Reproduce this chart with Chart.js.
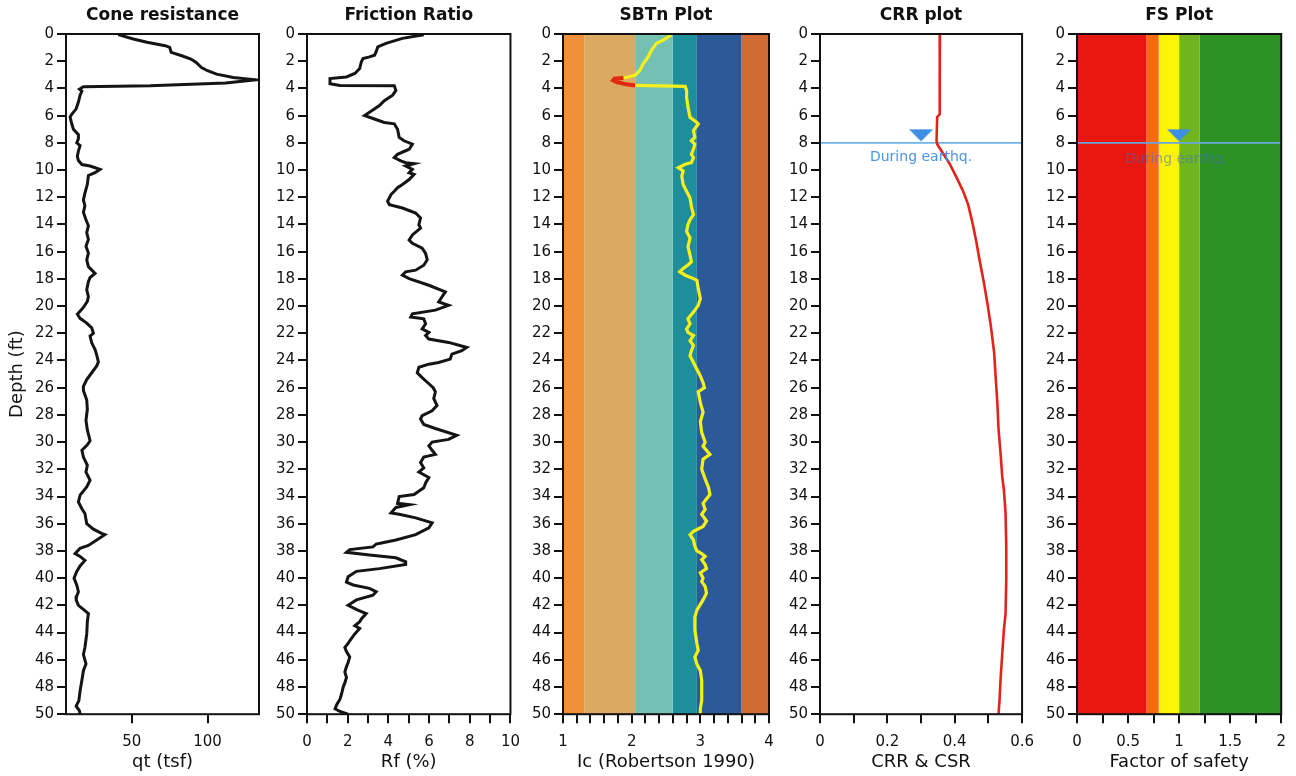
<!DOCTYPE html>
<html>
<head>
<meta charset="utf-8">
<script src="https://cdn.jsdelivr.net/npm/chart.js@4.4.1/dist/chart.umd.min.js"></script>
<style>
  html, body { margin: 0; padding: 0; background: #fff; }
  body { width: 1296px; height: 776px; position: relative; overflow: hidden; }
  canvas { position: absolute; top: 0; }
</style>
</head>
<body>
<canvas id="cone" width="276" height="776" style="left:0px"></canvas>
<canvas id="friction" width="262" height="776" style="left:268px"></canvas>
<canvas id="sbt" width="262" height="776" style="left:524px"></canvas>
<canvas id="crr" width="266" height="776" style="left:778px"></canvas>
<canvas id="fs" width="260" height="776" style="left:1036px"></canvas>
<script>
// ---- data (depth in ft) ----
const depthTicks = [0, 2, 4, 6, 8, 10, 12, 14, 16, 18, 20, 22, 24, 26, 28, 30, 32, 34, 36, 38, 40, 42, 44, 46, 48, 50];

const qtDepth = [0.05, 0.37, 0.61, 0.86, 0.98, 1.35, 1.6, 1.84, 2.09, 2.46, 2.7, 2.95, 3.19, 3.37, 3.6, 3.81, 3.88, 4.05, 4.2, 4.5,
  5.0, 5.5, 5.9, 6.1, 6.6, 7.0, 7.4, 7.7, 8.0, 8.2, 8.6, 9.0, 9.3, 9.6, 9.7, 9.95, 10.2, 10.4, 11.05, 11.7,
  12.2, 12.65, 13.1, 13.6, 14.1, 14.6, 15.1, 15.6, 16.1, 16.6, 17.1, 17.6, 17.9, 18.2, 18.8, 19.3, 19.65, 20.1, 20.6, 20.9,
  21.25, 21.6, 22.0, 22.2, 22.7, 23.2, 23.6, 24.1, 24.4, 24.9, 25.4, 25.9, 26.2, 26.9, 27.6, 28.4, 29.1, 29.9, 30.2, 30.6,
  31.1, 31.7, 32.2, 32.8, 33.3, 33.9, 34.4, 34.9, 35.25, 36.0, 36.4, 36.7, 36.8, 37.2, 37.6, 37.8, 38.2, 38.4, 38.7, 39.1,
  39.5, 40.0, 40.5, 41.0, 41.3, 41.6, 42.0, 42.3, 42.6, 43.2, 44.1, 45.1, 45.6, 46.3, 46.8, 47.5, 48.3, 49.0, 49.4, 49.75, 50.0];
const qtValue = [41, 51, 60, 72, 75, 76, 83, 89, 92.5, 96, 100, 106, 117, 132, 112, 62, 18, 15.4, 17, 15.8,
  14.7, 13.2, 10.3, 9.2, 10.3, 11.4, 14.7, 14.7, 13.6, 15.8, 14.7, 14, 14.7, 17, 22.4, 29, 25.7, 21.3, 20.6, 19,
  18, 19, 18, 19.5, 21.3, 20.2, 21.3, 19.7, 21.3, 20.2, 21.3, 25.7, 22.4, 21.3, 20.2, 21.3, 20.6, 18, 14, 15.8,
  20.2, 23.5, 24.6, 22.4, 23.5, 25.7, 26.8, 27.9, 26.8, 23.5, 20.2, 18, 18, 20.2, 20.6, 19.7, 20.6, 22.4, 20.6, 17,
  18, 20.6, 19.7, 22.4, 20.2, 15.8, 14.7, 17, 19, 20.2, 24.6, 30, 32.2, 26.8, 21.3, 15.8, 12.5, 15.8, 19, 15.8,
  13.6, 11.8, 13.6, 14.7, 13.6, 13.2, 14.7, 18, 21.3, 20.6, 20.2, 19, 18, 19.7, 18, 17, 15.8, 15, 13.2, 15.4, 15.8];

const rfDepth = [0.05, 0.32, 0.69, 0.94, 1.3, 1.56, 1.68, 1.8, 2.05, 2.54, 2.9, 3.16, 3.28, 3.65, 3.78, 3.8, 4.15, 4.5, 4.9, 5.26,
  5.75, 6.0, 6.12, 6.5, 6.6, 7.0, 7.6, 7.85, 8.1, 8.47, 8.84, 9.09, 9.33, 9.46, 9.53, 9.7, 9.95, 10.2, 10.32, 10.7,
  11.06, 11.3, 11.56, 11.8, 12.3, 12.54, 12.79, 13.16, 13.53, 14.02, 14.27, 14.77, 15.14, 15.38, 15.75, 16.12, 16.6, 17.0, 17.36, 17.48,
  17.73, 17.98, 18.47, 18.96, 19.33, 19.7, 19.95, 20.3, 20.57, 20.8, 20.94, 21.3, 21.68, 21.93, 22.17, 22.42, 22.67, 23.04, 23.28, 23.53,
  23.9, 24.15, 24.27, 24.5, 24.9, 25.26, 25.6, 26.0, 26.3, 26.8, 27.3, 27.7, 28.05, 28.3, 28.7, 29.0, 29.5, 29.8, 30.0, 30.27,
  30.6, 30.9, 31.1, 31.5, 31.9, 32.2, 32.6, 33.0, 33.35, 33.85, 34.0, 34.5, 34.6, 34.8, 35.2, 35.3, 35.57, 35.94, 36.3, 36.8,
  37.2, 37.4, 37.5, 37.7, 37.9, 38.1, 38.3, 38.5, 38.8, 39.0, 39.3, 39.5, 39.9, 40.3, 40.5, 40.75, 41.0, 41.25, 41.6, 42.0,
  42.35, 42.6, 43.0, 43.2, 43.5, 43.7, 44.1, 44.6, 44.8, 45.1, 45.4, 45.8, 46.2, 46.5, 46.9, 47.3, 47.7, 48.0, 48.5, 48.9,
  49.3, 49.6, 49.8, 50.0];
const rfValue = [5.74, 4.69, 3.88, 3.48, 3.4, 3.32, 3.07, 2.75, 2.67, 2.59, 2.35, 1.94, 1.13, 1.13, 1.62, 4.29, 4.37, 4.21, 3.8, 3.56,
  3.07, 2.83, 3.07, 3.8, 4.29, 4.45, 4.53, 4.77, 5.18, 5.02, 4.45, 4.29, 4.61, 4.85, 5.26, 4.85, 5.18, 5.02, 5.26, 5.02,
  4.69, 4.45, 4.29, 4.13, 3.96, 4.05, 4.69, 5.34, 5.58, 5.5, 5.58, 5.18, 5.02, 5.18, 5.66, 5.83, 5.91, 5.74, 5.34, 4.85,
  4.69, 5.02, 5.99, 6.8, 6.63, 6.47, 6.96, 6.31, 5.18, 5.1, 5.74, 5.83, 5.66, 5.99, 5.83, 5.99, 6.96, 7.85, 7.61, 7.12,
  7.04, 6.47, 5.99, 5.5, 5.42, 5.66, 5.91, 6.2, 6.31, 6.23, 6.39, 6.15, 5.66, 5.58, 5.74, 6.31, 7.36, 6.96, 6.15, 5.99,
  6.15, 6.31, 5.74, 5.58, 5.74, 5.5, 5.99, 5.83, 5.74, 5.26, 4.53, 4.45, 5.02, 4.37, 4.13, 4.53, 5.34, 6.15, 5.99, 5.34,
  4.37, 3.72, 3.4, 3.24, 2.1, 1.94, 3.07, 4.37, 4.85, 4.85, 3.56, 2.43, 2.02, 1.94, 2.27, 3.07, 3.4, 3.24, 2.43, 2.02,
  2.5, 2.91, 2.67, 2.59, 2.35, 2.59, 2.35, 2.1, 2.02, 1.86, 1.94, 2.1, 2.02, 1.94, 1.86, 1.94, 1.86, 1.78, 1.7, 1.62,
  1.46, 1.38, 1.62, 2.02];

const icDepth = [0.05, 0.44, 0.69, 1.19, 1.68, 2.17, 2.67, 3.04, 3.16, 3.23, 3.28, 3.4, 3.53, 3.7, 3.78, 3.85, 4.15, 4.64, 5.38, 6.12,
  6.5, 6.62, 7.1, 7.6, 7.85, 8.1, 8.47, 8.84, 9.09, 9.46, 9.58, 9.83, 10.07, 10.44, 11.06, 11.56, 12.05, 12.67, 13.28, 13.65,
  14.02, 14.52, 15.0, 15.63, 16.25, 16.74, 16.99, 17.23, 17.48, 17.73, 17.98, 18.1, 18.7, 19.46, 19.95, 20.44, 20.94, 21.3, 21.68, 21.93,
  22.17, 22.54, 22.9, 23.28, 23.65, 24.15, 24.64, 25.14, 25.63, 26.0, 26.3, 27.1, 27.8, 28.5, 29.3, 30.0, 30.3, 30.9, 31.25, 32.0,
  32.7, 33.35, 33.85, 34.5, 34.95, 35.3, 35.8, 36.2, 36.55, 36.8, 37.2, 37.65, 38.0, 38.2, 38.4, 38.65, 39.0, 39.3, 39.6, 40.0,
  40.25, 40.6, 41.1, 41.6, 42.35, 42.85, 43.8, 44.8, 45.3, 45.8, 46.3, 46.8, 47.5, 48.3, 49.0, 49.6, 50.0];
const icValue = [2.58, 2.46, 2.36, 2.29, 2.24, 2.17, 2.12, 2.05, 1.95, 1.88, 1.75, 1.73, 1.78, 1.92, 2.05, 2.78, 2.8, 2.8, 2.82, 2.85,
  2.95, 2.97, 2.9, 2.92, 2.87, 2.92, 2.9, 2.87, 2.9, 2.87, 2.78, 2.68, 2.75, 2.73, 2.75, 2.8, 2.85, 2.87, 2.9, 2.85,
  2.82, 2.8, 2.85, 2.82, 2.85, 2.87, 2.82, 2.75, 2.7, 2.78, 2.9, 2.95, 2.97, 3.0, 2.97, 2.9, 2.82, 2.85, 2.8, 2.82,
  2.9, 2.85, 2.9, 2.87, 2.85, 2.9, 2.95, 3.0, 3.04, 3.06, 2.97, 3.0, 3.04, 3.0, 3.02, 3.07, 3.04, 3.14, 3.04, 3.02,
  3.07, 3.12, 3.14, 3.04, 3.07, 3.02, 3.09, 3.04, 2.9, 2.85, 2.9, 2.92, 2.95, 3.02, 3.07, 3.02, 3.07, 3.09, 3.0, 3.04,
  3.02, 3.07, 3.09, 3.04, 2.95, 2.92, 2.92, 2.95, 2.97, 2.92, 2.95, 3.0, 3.02, 3.02, 3.02, 3.0, 3.0];
const icRedFrom = 3.2, icRedTo = 3.8;

const crrDepth = [0.05, 2, 5.9, 6.1, 7.85, 8.1, 8.84, 9.58, 10.57, 11.56, 12.54, 14.02, 15.26, 16.5, 18.47, 19.95, 21.43, 23.4, 25.38, 27.3,
  29.0, 30.8, 32.5, 33.5, 35.2, 37.7, 40.1, 42.6, 43.8, 45.6, 47.5, 49.0, 50.0];
const crrValue = [0.356, 0.356, 0.355, 0.348, 0.346, 0.348, 0.367, 0.386, 0.406, 0.425, 0.44, 0.454, 0.464, 0.473, 0.488, 0.498, 0.507, 0.517, 0.522, 0.527,
  0.53, 0.536, 0.541, 0.546, 0.551, 0.553, 0.553, 0.551, 0.546, 0.541, 0.536, 0.533, 0.53];

// soil behaviour type zones (Ic) and factor-of-safety zones
const sbtBounds = [1, 1.31, 2.05, 2.6, 2.95, 3.6, 4];
const sbtColors = ['#f2903a', '#dba962', '#74c1b4', '#1f8e9c', '#2c5a98', '#d26a34'];
const fsBounds = [0, 0.68, 0.8, 1.0, 1.2, 2];
const fsColors = ['#e8170f', '#f56a13', '#fbf505', '#70b520', '#2c9224'];

const waterDepth = 8;
const gwtMarkCrr = 0.3, gwtMarkFs = 1.0, gwtMarkDepth = 7.45;

const qtTicks = [50, 100];
const rfTicks = [0, 1, 2, 3, 4, 5, 6, 7, 8, 9, 10];
const rfLabels = [0, 2, 4, 6, 8, 10];
const icTicks = [1, 1.2, 1.4, 1.6, 1.8, 2, 2.2, 2.4, 2.6, 2.8, 3, 3.2, 3.4, 3.6, 3.8, 4];
const icLabels = [1, 2, 3, 4];
const crrTicks = [0, 0.1, 0.2, 0.3, 0.4, 0.5, 0.6];
const crrLabels = [0, 0.2, 0.4, 0.6];
const fsTicks = [0, 0.25, 0.5, 0.75, 1, 1.25, 1.5, 1.75, 2];
const fsLabels = [0, 0.5, 1, 1.5, 2];

// ---- helpers ----
Chart.defaults.font.family = "'DejaVu Sans', Verdana, sans-serif";
Chart.defaults.color = '#111';
const INK = '#111';

const pts = (vals, depths) => depths.map((d, i) => ({ x: vals[i], y: d }));

function bands(bounds, colors) {
  const top = depthTicks[0], bot = depthTicks[depthTicks.length - 1];
  return colors.map((c, i) => ({
    data: [{ x: bounds[i], y: top }, { x: bounds[i + 1], y: top }, { x: bounds[i + 1], y: bot }, { x: bounds[i], y: bot }, { x: bounds[i], y: top }],
    fill: 'shape', backgroundColor: c, borderColor: c, borderWidth: 0, pointRadius: 0, order: 10
  }));
}

// flat down-pointing triangle used for the water table mark
const tri = document.createElement('canvas');
tri.width = 26; tri.height = 14;
(function () {
  const g = tri.getContext('2d');
  g.fillStyle = '#3c8fe4';
  g.beginPath(); g.moveTo(1, 1); g.lineTo(25, 1); g.lineTo(13, 13); g.closePath(); g.fill();
})();

const framePlugin = {
  id: 'frame',
  afterDatasetsDraw(chart) {
    const { ctx, chartArea: a } = chart;
    ctx.save();
    ctx.lineWidth = 2;
    ctx.strokeStyle = INK;
    ctx.strokeRect(a.left, a.top, a.right - a.left, a.bottom - a.top);
    ctx.restore();
  }
};

const notePlugin = {
  id: 'note',
  afterDatasetsDraw(chart, args, o) {
    if (!o || !o.text) return;
    const { ctx, scales } = chart;
    ctx.save();
    ctx.font = "14px 'DejaVu Sans'";
    ctx.fillStyle = o.color;
    ctx.textAlign = 'center';
    ctx.textBaseline = 'middle';
    ctx.fillText(o.text, scales.x.getPixelForValue(o.x), scales.y.getPixelForValue(o.y));
    ctx.restore();
  }
};

function panel(id, o) {
  return new Chart(document.getElementById(id), {
    type: 'line',
    data: { datasets: o.datasets },
    options: {
      responsive: false,
      animation: false,
      events: [],
      layout: { padding: { left: o.padLeft, right: o.padRight, top: 0, bottom: 2.8 } },
      elements: { point: { radius: 0 }, line: { tension: 0 } },
      plugins: {
        legend: { display: false },
        tooltip: { enabled: false },
        title: {
          display: true, text: o.title, fullSize: false, color: INK,
          font: { size: 17, weight: 'bold' }, padding: { top: 5, bottom: 8.6 }
        },
        note: o.note || {}
      },
      scales: {
        x: {
          type: 'linear', position: 'bottom', min: o.xMin, max: o.xMax,
          afterBuildTicks: s => { s.ticks = o.xTicks.map(v => ({ value: v })); },
          afterFit: s => { s.height = 59; },
          border: { display: false },
          grid: { drawOnChartArea: false, drawTicks: true, tickLength: 9, lineWidth: 2, color: INK },
          ticks: {
            padding: 10, autoSkip: false, maxRotation: 0, color: INK, font: { size: 15 },
            callback: v => (o.xLabels.includes(v) ? String(v) : '')
          },
          title: { display: true, text: o.xTitle, color: INK, font: { size: 18 }, padding: 0 }
        },
        y: {
          type: 'linear', reverse: true, min: 0, max: 50,
          afterBuildTicks: s => { s.ticks = depthTicks.map(v => ({ value: v })); },
          afterFit: s => { s.width = o.yWidth; },
          border: { display: false },
          grid: { drawOnChartArea: false, drawTicks: true, tickLength: 9, lineWidth: 2, color: INK },
          ticks: { padding: 3, autoSkip: false, color: INK, font: { size: 15 } },
          title: { display: !!o.yTitle, text: o.yTitle, color: INK, font: { size: 18 }, padding: 0 }
        }
      }
    },
    plugins: [framePlugin, notePlugin]
  });
}

const blackLine = { borderColor: '#141414', borderWidth: 3, pointRadius: 0 };

panel('cone', {
  title: 'Cone resistance', xTitle: 'qt (tsf)', yTitle: 'Depth (ft)',
  xMin: 6.5, xMax: 134, xTicks: qtTicks, xLabels: qtTicks,
  padLeft: 7, yWidth: 59, padRight: 17,
  datasets: [Object.assign({ data: pts(qtValue, qtDepth) }, blackLine)]
});

panel('friction', {
  title: 'Friction Ratio', xTitle: 'Rf (%)',
  xMin: 0, xMax: 10, xTicks: rfTicks, xLabels: rfLabels,
  padLeft: 0, yWidth: 39, padRight: 17,
  datasets: [Object.assign({ data: pts(rfValue, rfDepth) }, blackLine)]
});

panel('sbt', {
  title: 'SBTn Plot', xTitle: 'Ic (Robertson 1990)',
  xMin: 1, xMax: 4, xTicks: icTicks, xLabels: icLabels,
  padLeft: 0, yWidth: 39, padRight: 17,
  datasets: bands(sbtBounds, sbtColors).concat([{
    data: pts(icValue, icDepth), borderColor: '#f6f01a', borderWidth: 3.2, pointRadius: 0, order: 1,
    segment: {
      borderColor: c => (c.p0.parsed.y >= icRedFrom && c.p1.parsed.y <= icRedTo ? '#e3260f' : undefined),
      borderWidth: c => (c.p0.parsed.y >= icRedFrom && c.p1.parsed.y <= icRedTo ? 4 : undefined)
    }
  }])
});

panel('crr', {
  title: 'CRR plot', xTitle: 'CRR & CSR',
  xMin: 0, xMax: 0.6, xTicks: crrTicks, xLabels: crrLabels,
  padLeft: 0, yWidth: 42, padRight: 17,
  note: { text: 'During earthq.', x: gwtMarkCrr, y: 9.1, color: '#4d93e0' },
  datasets: [
    { data: [{ x: 0, y: waterDepth }, { x: 0.6, y: waterDepth }], borderColor: '#6db4ea', borderWidth: 1.6, pointRadius: 0, order: 3 },
    { data: [{ x: gwtMarkCrr, y: gwtMarkDepth }], showLine: false, pointStyle: tri, pointRadius: 6, order: 2 },
    { data: pts(crrValue, crrDepth), borderColor: '#e3231a', borderWidth: 2.6, pointRadius: 0, order: 1 }
  ]
});

panel('fs', {
  title: 'FS Plot', xTitle: 'Factor of safety',
  xMin: 0, xMax: 2, xTicks: fsTicks, xLabels: fsLabels,
  padLeft: 0, yWidth: 41, padRight: 11,
  note: { text: 'During earthq.', x: 0.97, y: 9.2, color: 'rgba(70,105,205,0.55)' },
  datasets: bands(fsBounds, fsColors).concat([
    { data: [{ x: 0, y: waterDepth }, { x: 2, y: waterDepth }], borderColor: '#6aa6de', borderWidth: 1.6, pointRadius: 0, order: 3 },
    { data: [{ x: gwtMarkFs, y: gwtMarkDepth }], showLine: false, pointStyle: tri, pointRadius: 6, order: 2 }
  ])
});
</script>
</body>
</html>
